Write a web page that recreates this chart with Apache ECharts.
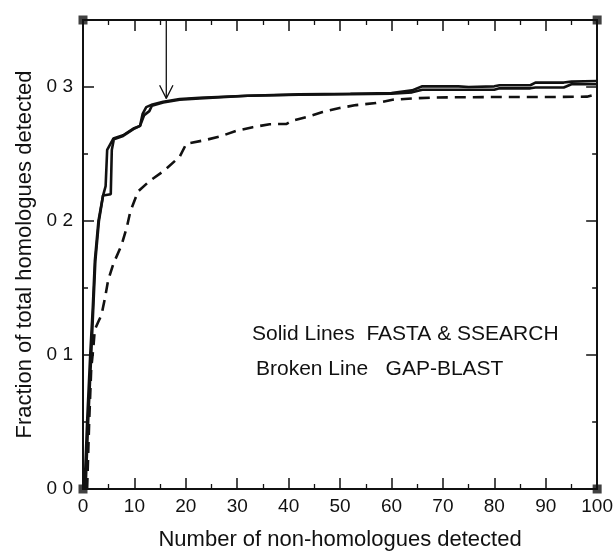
<!DOCTYPE html>
<html>
<head>
<meta charset="utf-8">
<script src="https://cdn.jsdelivr.net/npm/echarts@6/dist/echarts.min.js"></script>
<style>
  html, body { margin: 0; padding: 0; background: #fff; }
  #chart { width: 616px; height: 556px; }
</style>
</head>
<body>
<div id="chart"></div>
<script>
// ---- data ----
const xTicks = [0, 10, 20, 30, 40, 50, 60, 70, 80, 90, 100];
const yTicks = [0.0, 0.1, 0.2, 0.3];

const fastaPoints = [
  [0.3,0],[0.8,0.05],[1.4,0.10],[1.9,0.135],[2.3,0.17],[3.0,0.200],[3.9,0.219],[4.4,0.226],
  [4.7,0.253],[5.9,0.2615],[7.8,0.264],[9.8,0.269],[11.1,0.271],[11.6,0.280],[12.3,0.285],
  [13.5,0.287],[15.6,0.289],[18.8,0.291],[22.7,0.292],[32,0.2935],[42,0.2945],[52,0.295],
  [60,0.2955],[64,0.2975],[66,0.3005],[73,0.3005],[75,0.300],[80,0.3005],[81,0.3013],
  [87,0.3013],[88,0.3033],[93.5,0.3033],[95,0.304],[100,0.3045]
];
const ssearchPoints = [
  [0.5,0],[1.0,0.05],[1.6,0.10],[2.0,0.135],[2.4,0.17],[3.1,0.200],[3.9,0.219],[5.4,0.220],
  [5.6,0.253],[6.0,0.261],[7.8,0.2635],[9.8,0.2685],[11.1,0.271],[11.9,0.279],[12.9,0.282],
  [13.4,0.286],[15.6,0.2885],[18.8,0.2905],[22.7,0.2915],[32,0.2935],[42,0.2942],[52,0.2947],
  [60,0.295],[64,0.296],[66,0.298],[80,0.298],[81,0.299],[87,0.299],[88,0.2996],[93.5,0.2996],
  [95,0.302],[100,0.302]
];
const gapBlastPoints = [
  [0.8,0],[1.2,0.05],[1.6,0.09],[2.0,0.105],[2.3,0.119],[3.0,0.125],[3.6,0.13],[4.3,0.143],
  [4.9,0.156],[5.9,0.168],[7.5,0.182],[8.5,0.195],[9.2,0.207],[10.7,0.222],[13,0.23],
  [15.6,0.237],[18.8,0.248],[20.1,0.2577],[23.3,0.26],[26.6,0.263],[29.8,0.2673],[33,0.27],
  [36.3,0.2722],[39.6,0.2725],[40.8,0.275],[43.4,0.2775],[46.6,0.2813],[49.9,0.2843],
  [53.1,0.2865],[57,0.288],[60.2,0.2905],[64.1,0.2915],[68.7,0.2922],[80,0.2925],[90,0.2925],
  [98,0.2928],[100,0.2947]
];
const arrowShaft = [[16.2, 0.35], [16.2, 0.2915]];
const arrowHead = [[14.9, 0.3013], [16.2, 0.2915], [17.5, 0.3013]];
const frameCorners = [[0, 0], [100, 0], [0, 0.35], [100, 0.35]];

const xMin = 0, xMax = 100, yMin = 0, yMax = 0.35;
const legendLine1 = 'Solid Lines  FASTA & SSEARCH';
const legendLine2 = 'Broken Line   GAP-BLAST';
const xTitle = 'Number of non-homologues detected';
const yTitle = 'Fraction of total homologues detected';

// ---- chart ----
const FONT = '"Liberation Sans", Arial, Helvetica, sans-serif';
const INK = '#111';
const chart = echarts.init(document.getElementById('chart'), null, { renderer: 'canvas' });

function xAxisCfg(pos, withLabels) {
  return {
    type: 'value', position: pos, min: xMin, max: xMax, interval: 10,
    axisLine: { show: true, onZero: false, lineStyle: { color: INK, width: 2 } },
    axisTick: { show: true, inside: true, length: 11, lineStyle: { color: INK, width: 1.5 } },
    minorTick: { show: true, splitNumber: 2, length: 5, lineStyle: { color: INK, width: 1.3 } },
    splitLine: { show: false },
    axisLabel: withLabels ? { show: true, color: INK, fontSize: 19, fontFamily: FONT, margin: 8 } : { show: false },
    name: withLabels ? xTitle : '',
    nameLocation: 'middle', nameGap: 40,
    nameTextStyle: { color: INK, fontSize: 22, fontFamily: FONT }
  };
}
function yAxisCfg(pos, interval, tickLen, withLabels) {
  return {
    type: 'value', position: pos, min: yMin, max: yMax, interval: interval,
    axisLine: { show: true, onZero: false, lineStyle: { color: INK, width: 2 } },
    axisTick: { show: true, inside: true, length: tickLen, lineStyle: { color: INK, width: 1.5 } },
    splitLine: { show: false },
    axisLabel: withLabels ? {
      show: true, color: INK, fontSize: 19, fontFamily: FONT, margin: 10,
      formatter: function (v) {
        const hit = yTicks.find(t => Math.abs(t - v) < 1e-9);
        return hit === undefined ? '' : hit.toFixed(1).replace('.', ' ');
      }
    } : { show: false },
    name: withLabels ? yTitle : '',
    nameLocation: 'middle', nameGap: 46,
    nameTextStyle: { color: INK, fontSize: 22, fontFamily: FONT }
  };
}

const option = {
  backgroundColor: '#fff',
  animation: false,
  grid: { left: 83, right: 18, top: 20, bottom: 62, containLabel: false },
  xAxis: [xAxisCfg('bottom', true), xAxisCfg('top', false)],
  yAxis: [
    yAxisCfg('left', 0.1, 11, true),
    yAxisCfg('left', 0.05, 5, false),
    yAxisCfg('right', 0.1, 11, false),
    yAxisCfg('right', 0.05, 5, false)
  ],
  series: [
    { name: 'GAP-BLAST', type: 'line', data: gapBlastPoints, symbol: 'none', z: 3,
      lineStyle: { color: INK, width: 2.6, type: [11, 7] } },
    { name: 'FASTA', type: 'line', data: fastaPoints, symbol: 'none', z: 4,
      lineStyle: { color: INK, width: 2.6 } },
    { name: 'SSEARCH', type: 'line', data: ssearchPoints, symbol: 'none', z: 4,
      lineStyle: { color: INK, width: 2.6 } },
    { name: 'arrowShaft', type: 'line', data: arrowShaft, symbol: 'none', z: 5,
      lineStyle: { color: INK, width: 1.3 } },
    { name: 'arrowHead', type: 'line', data: arrowHead, symbol: 'none', z: 5,
      lineStyle: { color: INK, width: 1.3 } },
    { name: 'corners', type: 'scatter', data: frameCorners, symbol: 'rect', symbolSize: 9, z: 6,
      itemStyle: { color: INK } }
  ],
  graphic: [
    { type: 'text', left: 252, top: 324, z: 10,
      style: { text: legendLine1, fill: INK, fontSize: 21, fontFamily: FONT } },
    { type: 'text', left: 256, top: 359, z: 10,
      style: { text: legendLine2, fill: INK, fontSize: 21, fontFamily: FONT } }
  ]
};
chart.setOption(option);
</script>
</body>
</html>
